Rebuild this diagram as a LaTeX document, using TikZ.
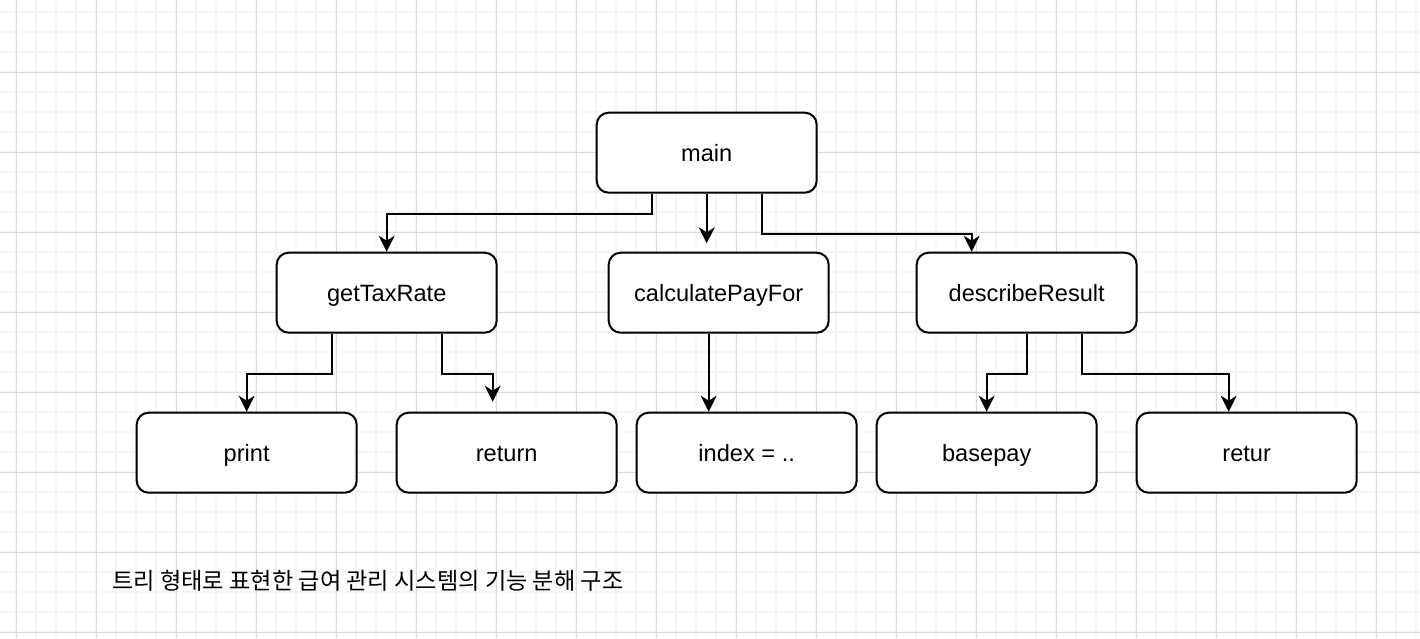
\documentclass[tikz,border=0pt]{standalone}
\usepackage{fontspec}
\setmainfont{Liberation Sans}
\newfontfamily\krfont{Noto Sans CJK KR}
\usetikzlibrary{arrows.meta,calc}
\begin{document}
\begin{tikzpicture}[x=0.5pt,y=-0.5pt,
    fn/.style={draw,fill=white,rounded corners=6pt,line width=1pt,
        minimum width=110pt,minimum height=40pt,inner sep=0pt,
        text height=0.98em,text depth=0.14em,
        font=\fontsize{11.8pt}{14pt}\selectfont},
    arr/.style={-{Stealth[length=8pt,width=8pt,inset=2.5pt]},line width=1pt},
    minorgrid/.style={black!4,line width=1pt},
    majorgrid/.style={black!14,line width=0.5pt}]

    \fill[white] (0,0) rectangle (1420,638);
    \useasboundingbox (0,0) rectangle (1420,638);
    \foreach \x in {16,36,...,1416} \draw[minorgrid] (\x,0) -- (\x,638);
    \foreach \y in {12,32,...,632} \draw[minorgrid] (0,\y) -- (1420,\y);
    \foreach \x in {16,96,...,1416} \draw[majorgrid] (\x,0) -- (\x,638);
    \foreach \y in {72,152,...,632} \draw[majorgrid] (0,\y) -- (1420,\y);

    \node[fn] (main) at (706.7,152.7) {main};
    \node[fn] (tax) at (386.7,292.7) {getTaxRate};
    \node[fn] (calc) at (718.7,292.7) {calculatePayFor};
    \node[fn] (desc) at (1026.7,292.7) {describeResult};
    \node[fn] (print) at (246.7,452.7) {print};
    \node[fn] (return) at (506.7,452.7) {return};
    \node[fn] (index) at (746.7,452.7) {index = ..};
    \node[fn] (basepay) at (986.7,452.7) {basepay};
    \node[fn] (retur) at (1246.7,452.7) {retur};
    \coordinate (calctip) at (706.7,243.3);
    \coordinate (returntip) at (492.7,401.7);

    \draw[arr] ($(main.south)+(-55,0)$) -- ++(0,20) -| (tax.north);
    \draw[arr] (main.south) -- (calctip);
    \draw[arr] ($(main.south)+(55,0)$) -- ++(0,40) -| ($(desc.north)+(-55,0)$);
    \draw[arr] ($(tax.south)+(-55,0)$) -- ++(0,40) -| (print.north);
    \draw[arr] ($(tax.south)+(55,0)$) -- ++(0,40) -| (returntip);
    \draw[arr] ($(calc.south)+(-10,0)$) -- ($(index.north)+(-38,0)$);
    \draw[arr] (desc.south) -- ++(0,40) -| (basepay.north);
    \draw[arr] ($(desc.south)+(55,0)$) -- ++(0,40) -| ($(retur.north)+(-18,0)$);

    \node[anchor=west,inner sep=0pt,font=\krfont\fontsize{11.6pt}{14pt}\selectfont]
        (caption) at (112,581) {트리 형태로 표현한 급여 관리 시스템의 기능 분해 구조};

\end{tikzpicture}
\end{document}
